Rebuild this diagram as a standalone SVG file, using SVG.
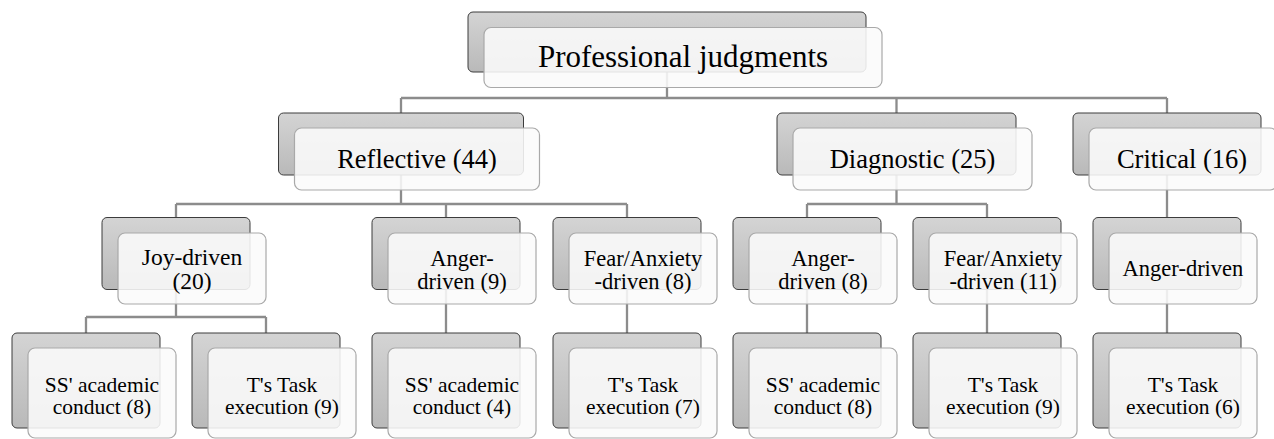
<svg xmlns="http://www.w3.org/2000/svg" width="1274" height="439" viewBox="0 0 1274 439">
<defs>
<linearGradient id="bg" x1="0" y1="0" x2="0" y2="1">
<stop offset="0" stop-color="#d4d4d4"/>
<stop offset="1" stop-color="#b9b9b9"/>
</linearGradient>
</defs>
<style>
.bk{fill:url(#bg);stroke:#3c3c3c;stroke-width:1}
.fr{fill:#fbfbfb;fill-opacity:0.88;stroke:#a9a9a9;stroke-width:1.2}
.cn{fill:none;stroke:#8c8c8c;stroke-width:2.3}
</style>
<rect width="1274" height="439" fill="#fff"/>
<g id="connectors">
<path class="cn" d="M667 72V98M401 98H1167M401 98V113M896.5 98V113M1167 98V217.5"/>
<path class="cn" d="M401 175V204M176 204H627M176 204V217.5M446 204V217.5M627 204V217.5"/>
<path class="cn" d="M896.5 175V204M807 204H987M807 204V217.5M987 204V217.5"/>
<path class="cn" d="M176 289.5V317M86 317H266M86 317V333M266 317V333"/>
<path class="cn" d="M446 289.5V333M627 289.5V333M807 289.5V333M987 289.5V333M1167 289.5V333"/>
</g>
<g id="n-root">
<rect class="bk" x="468" y="12" width="398" height="60" rx="5"/>
<rect class="fr" x="484" y="27.5" width="398" height="60" rx="7"/>
<text x="683" y="67" text-anchor="middle" style="font-family:'Liberation Serif',serif;font-size:31px">Professional judgments</text>
</g>
<g id="n-reflective">
<rect class="bk" x="278.5" y="113" width="245" height="62" rx="5"/>
<rect class="fr" x="294.5" y="128" width="245" height="62" rx="7"/>
<text x="417" y="167.5" text-anchor="middle" style="font-family:'Liberation Serif',serif;font-size:26.5px">Reflective (44)</text>
</g>
<g id="n-diagnostic">
<rect class="bk" x="777" y="113" width="239" height="62" rx="5"/>
<rect class="fr" x="793" y="128" width="239" height="62" rx="7"/>
<text x="912.5" y="167.5" text-anchor="middle" style="font-family:'Liberation Serif',serif;font-size:26.5px">Diagnostic (25)</text>
</g>
<g id="n-critical">
<rect class="bk" x="1073" y="113" width="188" height="62" rx="5"/>
<rect class="fr" x="1089" y="128" width="188" height="62" rx="7"/>
<text x="1182" y="167.5" text-anchor="middle" style="font-family:'Liberation Serif',serif;font-size:26.5px">Critical (16)</text>
</g>
<g id="n-joy">
<rect class="bk" x="102" y="217.5" width="148" height="72" rx="5"/>
<rect class="fr" x="118" y="233" width="148" height="71" rx="7"/>
<text x="192" y="265" text-anchor="middle" style="font-family:'Liberation Serif',serif;font-size:23.5px">Joy-driven</text>
<text x="192" y="289" text-anchor="middle" style="font-family:'Liberation Serif',serif;font-size:23.5px">(20)</text>
</g>
<g id="n-anger-r">
<rect class="bk" x="372" y="217.5" width="148" height="72" rx="5"/>
<rect class="fr" x="388" y="233" width="148" height="71" rx="7"/>
<text x="462" y="266" text-anchor="middle" style="font-family:'Liberation Serif',serif;font-size:22.5px">Anger-</text>
<text x="462" y="289" text-anchor="middle" style="font-family:'Liberation Serif',serif;font-size:22.5px">driven (9)</text>
</g>
<g id="n-fear-r">
<rect class="bk" x="553" y="217.5" width="148" height="72" rx="5"/>
<rect class="fr" x="569" y="233" width="148" height="71" rx="7"/>
<text x="643" y="266" text-anchor="middle" style="font-family:'Liberation Serif',serif;font-size:22.5px">Fear/Anxiety</text>
<text x="643" y="289" text-anchor="middle" style="font-family:'Liberation Serif',serif;font-size:22.5px">-driven (8)</text>
</g>
<g id="n-anger-d">
<rect class="bk" x="733" y="217.5" width="148" height="72" rx="5"/>
<rect class="fr" x="749" y="233" width="148" height="71" rx="7"/>
<text x="823" y="266" text-anchor="middle" style="font-family:'Liberation Serif',serif;font-size:22.5px">Anger-</text>
<text x="823" y="289" text-anchor="middle" style="font-family:'Liberation Serif',serif;font-size:22.5px">driven (8)</text>
</g>
<g id="n-fear-d">
<rect class="bk" x="913" y="217.5" width="148" height="72" rx="5"/>
<rect class="fr" x="929" y="233" width="148" height="71" rx="7"/>
<text x="1003" y="266" text-anchor="middle" style="font-family:'Liberation Serif',serif;font-size:22.5px">Fear/Anxiety</text>
<text x="1003" y="289" text-anchor="middle" style="font-family:'Liberation Serif',serif;font-size:22.5px">-driven (11)</text>
</g>
<g id="n-anger-c">
<rect class="bk" x="1093" y="217.5" width="148" height="72" rx="5"/>
<rect class="fr" x="1109" y="233" width="148" height="71" rx="7"/>
<text x="1183" y="276" text-anchor="middle" style="font-family:'Liberation Serif',serif;font-size:22.5px">Anger-driven</text>
</g>
<g id="n-ss-joy">
<rect class="bk" x="12" y="333" width="148" height="95" rx="5"/>
<rect class="fr" x="28" y="348" width="148" height="90" rx="7"/>
<text x="102" y="391.5" text-anchor="middle" style="font-family:'Liberation Serif',serif;font-size:21.5px">SS' academic</text>
<text x="102" y="413.5" text-anchor="middle" style="font-family:'Liberation Serif',serif;font-size:21.5px">conduct (8)</text>
</g>
<g id="n-ts-joy">
<rect class="bk" x="192" y="333" width="148" height="95" rx="5"/>
<rect class="fr" x="208" y="348" width="148" height="90" rx="7"/>
<text x="282" y="391.5" text-anchor="middle" style="font-family:'Liberation Serif',serif;font-size:21.5px">T's Task</text>
<text x="282" y="413.5" text-anchor="middle" style="font-family:'Liberation Serif',serif;font-size:21.5px">execution (9)</text>
</g>
<g id="n-ss-anger-r">
<rect class="bk" x="372" y="333" width="148" height="95" rx="5"/>
<rect class="fr" x="388" y="348" width="148" height="90" rx="7"/>
<text x="462" y="391.5" text-anchor="middle" style="font-family:'Liberation Serif',serif;font-size:21.5px">SS' academic</text>
<text x="462" y="413.5" text-anchor="middle" style="font-family:'Liberation Serif',serif;font-size:21.5px">conduct (4)</text>
</g>
<g id="n-ts-fear-r">
<rect class="bk" x="553" y="333" width="148" height="95" rx="5"/>
<rect class="fr" x="569" y="348" width="148" height="90" rx="7"/>
<text x="643" y="391.5" text-anchor="middle" style="font-family:'Liberation Serif',serif;font-size:21.5px">T's Task</text>
<text x="643" y="413.5" text-anchor="middle" style="font-family:'Liberation Serif',serif;font-size:21.5px">execution (7)</text>
</g>
<g id="n-ss-anger-d">
<rect class="bk" x="733" y="333" width="148" height="95" rx="5"/>
<rect class="fr" x="749" y="348" width="148" height="90" rx="7"/>
<text x="823" y="391.5" text-anchor="middle" style="font-family:'Liberation Serif',serif;font-size:21.5px">SS' academic</text>
<text x="823" y="413.5" text-anchor="middle" style="font-family:'Liberation Serif',serif;font-size:21.5px">conduct (8)</text>
</g>
<g id="n-ts-fear-d">
<rect class="bk" x="913" y="333" width="148" height="95" rx="5"/>
<rect class="fr" x="929" y="348" width="148" height="90" rx="7"/>
<text x="1003" y="391.5" text-anchor="middle" style="font-family:'Liberation Serif',serif;font-size:21.5px">T's Task</text>
<text x="1003" y="413.5" text-anchor="middle" style="font-family:'Liberation Serif',serif;font-size:21.5px">execution (9)</text>
</g>
<g id="n-ts-critical">
<rect class="bk" x="1093" y="333" width="148" height="95" rx="5"/>
<rect class="fr" x="1109" y="348" width="148" height="90" rx="7"/>
<text x="1183" y="391.5" text-anchor="middle" style="font-family:'Liberation Serif',serif;font-size:21.5px">T's Task</text>
<text x="1183" y="413.5" text-anchor="middle" style="font-family:'Liberation Serif',serif;font-size:21.5px">execution (6)</text>
</g>
</svg>
